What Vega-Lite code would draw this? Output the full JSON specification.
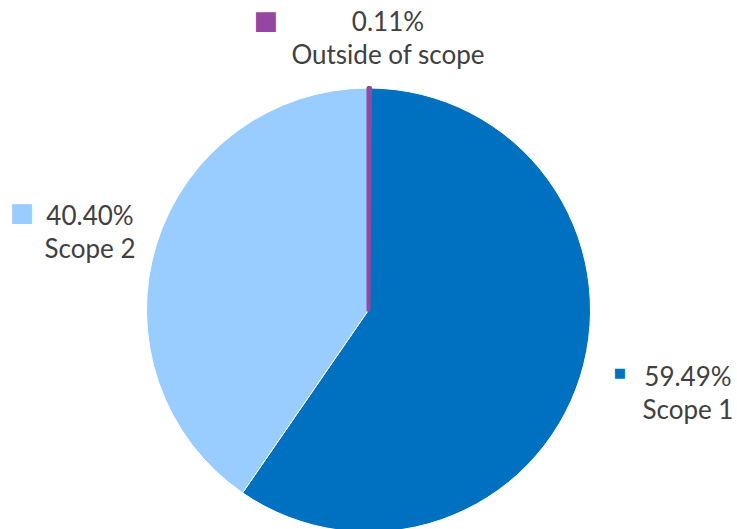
{
  "$schema": "https://vega.github.io/schema/vega-lite/v6.json",
  "autosize": "none",
  "width": 737,
  "height": 438,
  "padding": {"top": 91, "left": 0, "right": 0, "bottom": 0},
  "background": "white",
  "config": {"view": {"stroke": null}, "text": {"font": "Lato", "fontSize": 26, "color": "#404040"}},
  "data": {"values": [
    {"cat": "Outside of scope", "value": 0.11, "ord": 1},
    {"cat": "Scope 1", "value": 59.49, "ord": 2},
    {"cat": "Scope 2", "value": 40.40, "ord": 3}
  ]},
  "encoding": {
    "theta": {"field": "value", "type": "quantitative", "stack": true},
    "order": {"field": "ord", "type": "quantitative"}
  },
  "layer": [
    {
      "mark": {"type": "arc", "outerRadius": 222, "stroke": "#ffffff", "strokeWidth": 1},
      "encoding": {
        "color": {"field": "cat", "type": "nominal", "legend": null,
          "scale": {"domain": ["Outside of scope", "Scope 1", "Scope 2"], "range": ["#9446A0", "#0070C0", "#99CCFF"]}}
      }
    },
    {
      "mark": {"type": "arc", "outerRadius": 222, "strokeWidth": 4, "strokeJoin": "round"},
      "encoding": {
        "fill": {"condition": {"test": "datum.cat === 'Outside of scope'", "value": "#9446A0"}, "value": "transparent"},
        "stroke": {"condition": {"test": "datum.cat === 'Outside of scope'", "value": "#9446A0"}, "value": "transparent"}
      }
    },
    {
      "mark": {"type": "text", "radius": 250, "align": "center", "baseline": "middle", "lineHeight": 33, "dx": 18.6, "dy": -37},
      "encoding": {"text": {"condition": {"test": "datum.cat === 'Outside of scope'", "value": ["0.11%", "Outside of scope"]}, "value": ""}}
    },
    {
      "mark": {"type": "text", "radius": 250, "align": "center", "baseline": "middle", "lineHeight": 33, "dx": 81, "dy": -7},
      "encoding": {"text": {"condition": {"test": "datum.cat === 'Scope 1'", "value": ["59.49%", "Scope 1"]}, "value": ""}}
    },
    {
      "mark": {"type": "text", "radius": 250, "align": "center", "baseline": "middle", "lineHeight": 33, "dx": -39.8, "dy": -19},
      "encoding": {"text": {"condition": {"test": "datum.cat === 'Scope 2'", "value": ["40.40%", "Scope 2"]}, "value": ""}}
    },
    {
      "mark": {"type": "text", "radius": 250, "align": "center", "baseline": "middle", "font": "DejaVu Sans", "fontSize": 26, "dx": -103.4, "dy": -39, "color": "#9446A0"},
      "encoding": {"text": {"condition": {"test": "datum.cat === 'Outside of scope'", "value": "■"}, "value": ""}}
    },
    {
      "mark": {"type": "text", "radius": 250, "align": "center", "baseline": "middle", "font": "DejaVu Sans", "fontSize": 13, "dx": 13, "dy": -12, "color": "#0070C0"},
      "encoding": {"text": {"condition": {"test": "datum.cat === 'Scope 1'", "value": "■"}, "value": ""}}
    },
    {
      "mark": {"type": "text", "radius": 250, "align": "center", "baseline": "middle", "font": "DejaVu Sans", "fontSize": 26, "dx": -107.8, "dy": -22.7, "color": "#99CCFF"},
      "encoding": {"text": {"condition": {"test": "datum.cat === 'Scope 2'", "value": "■"}, "value": ""}}
    }
  ]
}
